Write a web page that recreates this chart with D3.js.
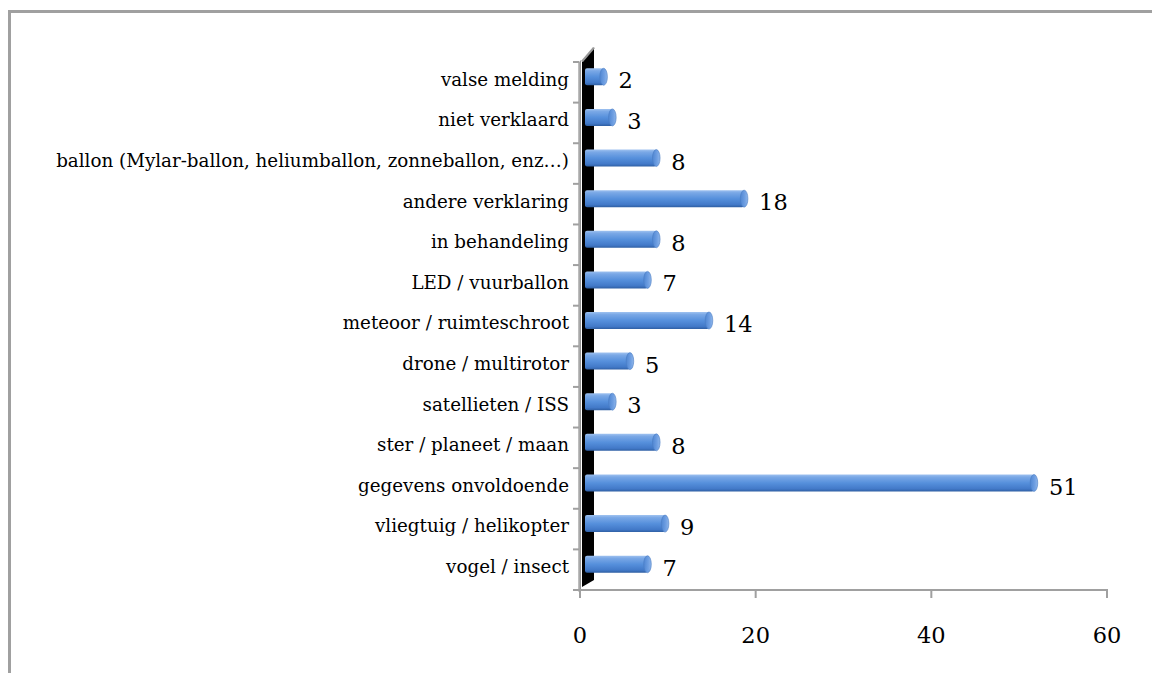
<!DOCTYPE html>
<html><head><meta charset="utf-8">
<script src="https://cdn.jsdelivr.net/npm/d3@7/dist/d3.min.js"></script>
<style>html,body{margin:0;padding:0;background:#fff;}svg{display:block;}</style>
</head><body>
<svg id="chart" width="1152" height="673"></svg>
<script>
const categories = ["valse melding","niet verklaard","ballon (Mylar-ballon, heliumballon, zonneballon, enz…)","andere verklaring","in behandeling","LED / vuurballon","meteoor / ruimteschroot","drone / multirotor","satellieten / ISS","ster / planeet / maan","gegevens onvoldoende","vliegtuig / helikopter","vogel / insect"];
const values = [2,3,8,18,8,7,14,5,3,8,51,9,7];
const xTicks = [0,20,40,60];

const svg = d3.select("#chart");
const W = 1152, H = 673;
svg.append("rect").attr("width",W).attr("height",H).attr("fill","#fff");
// frame
svg.append("path").attr("d",`M9.5,${H} V11.5 H${W}`).attr("fill","none").attr("stroke","#a0a0a0").attr("stroke-width",3);

const x = d3.scaleLinear().domain([0,60]).range([580,1107]);
const y = d3.scaleBand().domain(categories).range([62,590]);

const defs = svg.append("defs");
const g = defs.append("linearGradient").attr("id","barg").attr("x1",0).attr("y1",0).attr("x2",0).attr("y2",1);
[[0,"#9fc2f0"],[0.15,"#7aa8e6"],[0.5,"#5690dc"],[0.85,"#4279c8"],[1,"#2f5fa3"]].forEach(s=>g.append("stop").attr("offset",s[0]).attr("stop-color",s[1]));
const gc = defs.append("linearGradient").attr("id","capg").attr("x1",0).attr("y1",0).attr("x2",1).attr("y2",0);
[[0,"#4f86d2"],[0.6,"#6f9fe2"],[1,"#8fb6ea"]].forEach(s=>gc.append("stop").attr("offset",s[0]).attr("stop-color",s[1]));
const gw = defs.append("linearGradient").attr("id","wallg").attr("x1",0).attr("y1",0).attr("x2",1).attr("y2",0);
[[0,"#c8c8c8"],[1,"#8a8a8a"]].forEach(s=>gw.append("stop").attr("offset",s[0]).attr("stop-color",s[1]));

// wall
const x0 = x(0), yTop = y.range()[0], yBot = y.range()[1];
svg.append("polygon")
  .attr("points",[[x0-2,yTop+1],[x0+1,yTop-2],[x0+1,yBot],[x0-2,yBot+2]].map(p=>p.join(",")).join(" "))
  .attr("fill","url(#wallg)");
svg.append("polygon")
  .attr("points",[[x0+2,yTop],[x0+14,yTop-14],[x0+14,yBot-10],[x0+2,yBot-3]].map(p=>p.join(",")).join(" "))
  .attr("fill","#000");
svg.append("polygon")
  .attr("points",[[x0+1,yTop-1],[x0+13,yTop-15],[x0+15,yTop-14],[x0+3,yTop]].map(p=>p.join(",")).join(" "))
  .attr("fill","#999");

// category ticks
const tickCol = "#a0a0a0";
const bounds = categories.map(c=>y(c)).concat([yBot]);
svg.selectAll(".ytick").data(bounds).enter().append("line")
  .attr("x1",x0-7).attr("x2",x0-1).attr("y1",d=>d).attr("y2",d=>d)
  .attr("stroke",tickCol).attr("stroke-width",2);

// x axis
svg.append("line").attr("x1",x0-7).attr("x2",x(60)+1).attr("y1",yBot).attr("y2",yBot).attr("stroke",tickCol).attr("stroke-width",2);
svg.selectAll(".xtick").data(xTicks).enter().append("line")
  .attr("x1",d=>x(d)).attr("x2",d=>x(d)).attr("y1",yBot).attr("y2",yBot+8)
  .attr("stroke",tickCol).attr("stroke-width",2);
svg.selectAll(".xlab").data(xTicks).enter().append("text")
  .attr("x",d=>x(d)).attr("y",643).attr("text-anchor","middle")
  .attr("font-family","DejaVu Serif").attr("font-size",22.5).attr("fill","#000")
  .text(d=>d);

// category labels
svg.selectAll(".clab").data(categories).enter().append("text")
  .attr("x",569).attr("y",d=>y(d)+y.bandwidth()/2-3).attr("dy","0.35em")
  .attr("text-anchor","end").attr("font-family","DejaVu Serif").attr("font-size",18.3).attr("fill","#000")
  .text(d=>d);

// bars
const bh = 17;
const bars = svg.selectAll(".bar").data(values.map((v,i)=>({v,c:categories[i]}))).enter().append("g");
bars.append("rect")
  .attr("x",x0+5).attr("y",d=>y(d.c)+y.bandwidth()/2-5.5-bh/2)
  .attr("width",d=>x(d.v)+6-(x0+5)).attr("height",bh).attr("rx",2)
  .attr("fill","url(#barg)");
bars.append("ellipse")
  .attr("cx",d=>x(d.v)+6).attr("cy",d=>y(d.c)+y.bandwidth()/2-5.5)
  .attr("rx",3.8).attr("ry",bh/2)
  .attr("fill","url(#capg)").attr("stroke","#4a7cc2").attr("stroke-width",0.6);
bars.append("text")
  .attr("x",d=>x(d.v)+21).attr("y",d=>y(d.c)+y.bandwidth()/2-2).attr("dy","0.36em")
  .attr("font-family","DejaVu Serif").attr("font-size",22.5).attr("fill","#000")
  .text(d=>d.v);
</script>
</body></html>
